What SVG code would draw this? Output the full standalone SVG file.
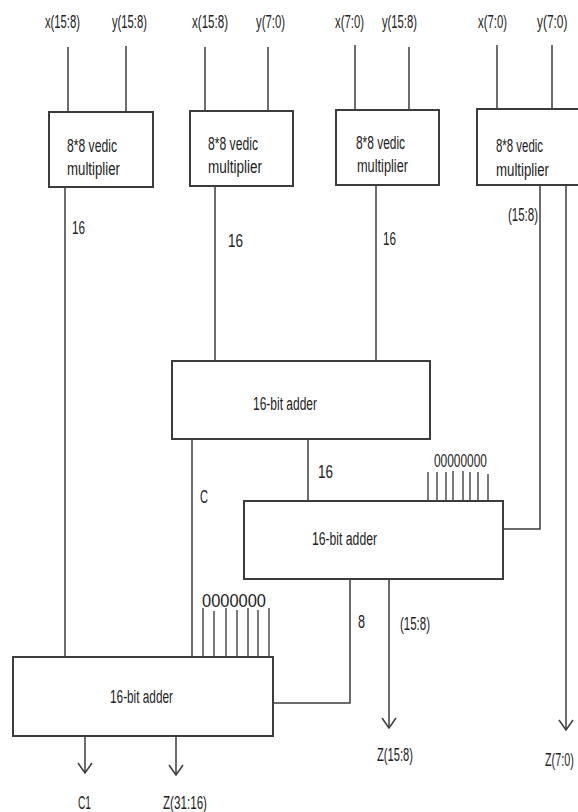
<svg xmlns="http://www.w3.org/2000/svg" width="578" height="812" viewBox="0 0 578 812">
<style>
.box{fill:#fff;stroke:#3c3c3c;stroke-width:2}
.w{fill:none;stroke:#3c3c3c;stroke-width:1.5}
.t{stroke:#222;stroke-width:1.2}
text{font-family:"Liberation Sans",Arial,sans-serif;font-size:18px;fill:#222}
</style>
<defs>
<marker id="v" viewBox="0 0 12 16" refX="11" refY="8" markerWidth="12" markerHeight="16" markerUnits="userSpaceOnUse" orient="auto">
<polyline points="1,1 11,8 1,15" fill="none" stroke="#3c3c3c" stroke-width="1.5"/>
</marker>
</defs>
<rect width="578" height="812" fill="#fff"/>
<g id="labels-top">
<text x="45" y="28" textLength="35" lengthAdjust="spacingAndGlyphs">x(15:8)</text>
<text x="112" y="28" textLength="35" lengthAdjust="spacingAndGlyphs">y(15:8)</text>
<text x="192" y="28" textLength="36" lengthAdjust="spacingAndGlyphs">x(15:8)</text>
<text x="256" y="28" textLength="29" lengthAdjust="spacingAndGlyphs">y(7:0)</text>
<text x="335" y="28" textLength="29" lengthAdjust="spacingAndGlyphs">x(7:0)</text>
<text x="382" y="28" textLength="35" lengthAdjust="spacingAndGlyphs">y(15:8)</text>
<text x="478" y="28" textLength="29" lengthAdjust="spacingAndGlyphs">x(7:0)</text>
<text transform="translate(537,28) scale(0.66,1)" x="0" y="0">y(7:0)</text>
</g>
<g id="connectors">
<line class="w" x1="68" y1="47" x2="68" y2="112"/>
<line class="w" x1="126" y1="46" x2="126" y2="112"/>
<line class="w" x1="205" y1="47" x2="205" y2="111"/>
<line class="w" x1="268" y1="47" x2="268" y2="111"/>
<line class="w" x1="355" y1="45" x2="355" y2="110"/>
<line class="w" x1="409" y1="47" x2="409" y2="110"/>
<line class="w" x1="497" y1="45" x2="497" y2="109"/>
<line class="w" x1="552" y1="45" x2="552" y2="109"/>
<line class="w" x1="65" y1="187" x2="65" y2="657"/>
<line class="w" x1="215" y1="186" x2="215" y2="361"/>
<line class="w" x1="376" y1="185" x2="376" y2="361"/>
<polyline class="w" points="540,185 540,529 503,529"/>
<line class="w" x1="566" y1="185" x2="566" y2="730" marker-end="url(#v)"/>
<line class="w" x1="192" y1="439" x2="192" y2="657"/>
<line class="w" x1="308" y1="439" x2="308" y2="501"/>
<polyline class="w" points="350,579 350,703 273,703"/>
<line class="w" x1="389" y1="579" x2="389" y2="728" marker-end="url(#v)"/>
<line class="w" x1="85" y1="736" x2="85" y2="773" marker-end="url(#v)"/>
<line class="w" x1="176" y1="736" x2="176" y2="775" marker-end="url(#v)"/>
<g id="zeros-a">
<line class="t" x1="428" y1="472" x2="428" y2="501"/>
<line class="t" x1="437" y1="472" x2="437" y2="501"/>
<line class="t" x1="446" y1="472" x2="446" y2="501"/>
<line class="t" x1="453" y1="471" x2="453" y2="501"/>
<line class="t" x1="463" y1="471" x2="463" y2="501"/>
<line class="t" x1="470" y1="472" x2="470" y2="501"/>
<line class="t" x1="478" y1="472" x2="478" y2="501"/>
<line class="t" x1="488" y1="474" x2="488" y2="501"/>
</g>
<g id="zeros-b">
<line class="t" x1="203" y1="608" x2="203" y2="657"/>
<line class="t" x1="214" y1="611" x2="214" y2="657"/>
<line class="t" x1="226" y1="608" x2="226" y2="657"/>
<line class="t" x1="237" y1="610" x2="237" y2="657"/>
<line class="t" x1="248" y1="608" x2="248" y2="657"/>
<line class="t" x1="258" y1="610" x2="258" y2="657"/>
<line class="t" x1="269" y1="608" x2="269" y2="657"/>
</g>
</g>
<g id="mult1">
<rect class="box" x="49" y="112" width="104" height="75"/>
<text x="67" y="152" textLength="50" lengthAdjust="spacingAndGlyphs">8*8 vedic</text>
<text x="67" y="175" textLength="53" lengthAdjust="spacingAndGlyphs">multiplier</text>
</g>
<g id="mult2">
<rect class="box" x="190" y="111" width="103" height="75"/>
<text x="208" y="150" textLength="50" lengthAdjust="spacingAndGlyphs">8*8 vedic</text>
<text x="208" y="173" textLength="54" lengthAdjust="spacingAndGlyphs">multiplier</text>
</g>
<g id="mult3">
<rect class="box" x="336" y="110" width="103" height="75"/>
<text x="356" y="149" textLength="49" lengthAdjust="spacingAndGlyphs">8*8 vedic</text>
<text x="357" y="172" textLength="51" lengthAdjust="spacingAndGlyphs">multiplier</text>
</g>
<g id="mult4">
<rect class="box" x="477" y="109" width="110" height="76"/>
<text x="496" y="152" textLength="47" lengthAdjust="spacingAndGlyphs">8*8 vedic</text>
<text x="496" y="176" textLength="53" lengthAdjust="spacingAndGlyphs">multiplier</text>
</g>
<g id="adder1">
<rect class="box" x="172" y="361" width="258" height="78"/>
<text x="253" y="410" textLength="64" lengthAdjust="spacingAndGlyphs">16-bit adder</text>
</g>
<g id="adder2">
<rect class="box" x="244" y="501" width="259" height="78"/>
<text x="312" y="545" textLength="65" lengthAdjust="spacingAndGlyphs">16-bit adder</text>
</g>
<g id="adder3">
<rect class="box" x="13" y="657" width="260" height="79"/>
<text x="110" y="703" textLength="63" lengthAdjust="spacingAndGlyphs">16-bit adder</text>
</g>
<g id="labels">
<text x="72" y="234" textLength="13" lengthAdjust="spacingAndGlyphs">16</text>
<text x="228" y="247" textLength="15" lengthAdjust="spacingAndGlyphs">16</text>
<text x="383" y="245" textLength="13" lengthAdjust="spacingAndGlyphs">16</text>
<text x="508" y="221" textLength="30" lengthAdjust="spacingAndGlyphs">(15:8)</text>
<text x="318" y="478" textLength="15" lengthAdjust="spacingAndGlyphs">16</text>
<text x="200" y="503" textLength="8" lengthAdjust="spacingAndGlyphs">C</text>
<text x="434" y="467" textLength="53" lengthAdjust="spacingAndGlyphs">00000000</text>
<text x="202" y="607" textLength="64" lengthAdjust="spacingAndGlyphs">0000000</text>
<text x="358" y="628" textLength="7" lengthAdjust="spacingAndGlyphs">8</text>
<text x="400" y="630" textLength="30" lengthAdjust="spacingAndGlyphs">(15:8)</text>
<text x="377" y="761" textLength="36" lengthAdjust="spacingAndGlyphs">Z(15:8)</text>
<text transform="translate(545,766) scale(0.6,1)" x="0" y="0">Z(7:0)</text>
<text x="78" y="809" textLength="13" lengthAdjust="spacingAndGlyphs">C1</text>
<text x="163" y="809" textLength="44" lengthAdjust="spacingAndGlyphs">Z(31:16)</text>
</g>
</svg>
